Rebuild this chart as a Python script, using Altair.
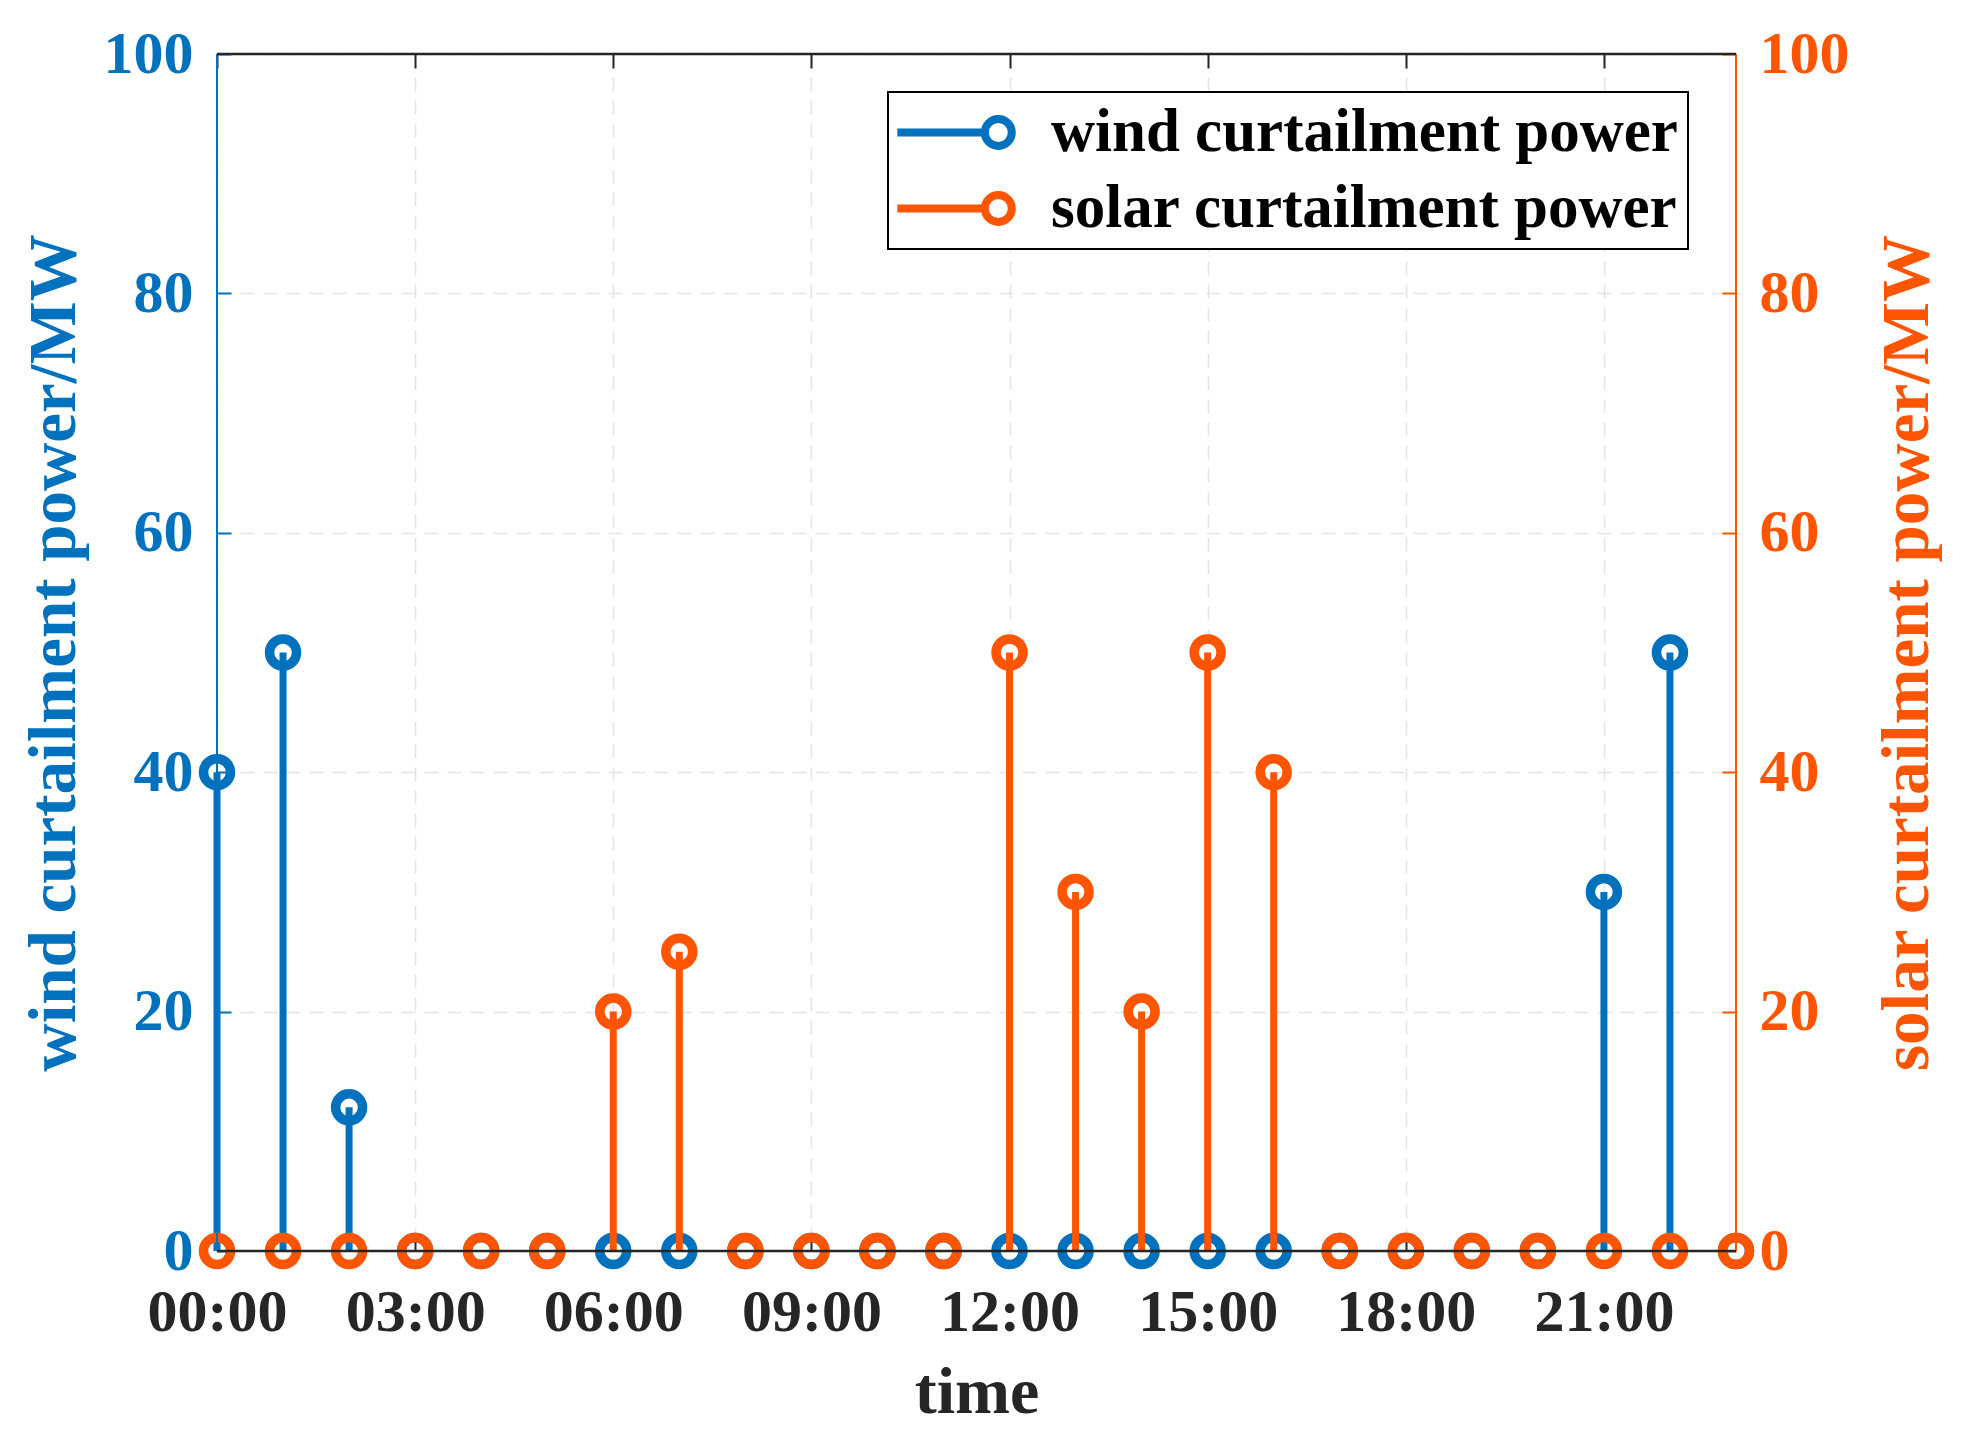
import altair as alt
import pandas as pd

# ---- data ----
hours = list(range(24))
wind_mw = [40, 50, 12, 0, 0, 0, 0, 0, 0, 0, 0, 0, 0, 0, 0, 0, 0, 0, 0, 0, 0, 30, 50, 0]
solar_mw = [0, 0, 0, 0, 0, 0, 20, 25, 0, 0, 0, 0, 50, 30, 20, 50, 40, 0, 0, 0, 0, 0, 0, 0]
series_names = ["wind curtailment power", "solar curtailment power"]
series_colors = ["#0072BD", "#FF5500"]
x_ticks = [0, 3, 6, 9, 12, 15, 18, 21]
y_ticks = [0, 20, 40, 60, 80, 100]
x_domain = [0, 23]
y_domain = [0, 100]
axis_titles = ["time", "wind curtailment power/MW", "solar curtailment power/MW"]

BLUE, ORANGE = series_colors
DARK = "#262626"
FONT = "Liberation Serif"
W, H = 1519, 1197

df = pd.DataFrame({
    "hour": hours + hours,
    "value": wind_mw + solar_mw,
    "base": [0] * 48,
    "series": [series_names[0]] * 24 + [series_names[1]] * 24,
})

LEGEND_PATH = "M-2.31,0L4.17,0M6.17,0A1,1,0,1,1,4.17,0A1,1,0,1,1,6.17,0"

legend = alt.Legend(
    title=None, orient="none", legendX=671, legendY=38, direction="vertical",
    symbolType=LEGEND_PATH, symbolSize=729, symbolStrokeWidth=8,
    symbolFillColor="transparent",
    labelFont=FONT, labelFontSize=61, labelFontWeight="bold", labelColor="black",
    labelLimit=0, labelOffset=92, rowPadding=14, padding=10,
    strokeColor="black", fillColor="white",
)
color_enc = alt.Color("series:N", scale=alt.Scale(domain=series_names, range=series_colors), legend=legend)

xs = alt.Scale(domain=x_domain, nice=False, zero=False)
grid_props = dict(grid=True, gridColor="#e4e4e4", gridDash=[14, 9], gridWidth=1.5)

x_bottom = alt.X("hour:Q", scale=xs, axis=alt.Axis(
    orient="bottom", values=x_ticks,
    labelExpr="(datum.value < 10 ? '0' : '') + datum.value + ':00'",
    offset=-14, tickSize=14, tickWidth=2, tickColor=DARK, domain=False,
    labelFont=FONT, labelFontSize=60, labelFontWeight="bold", labelColor=DARK,
    labelBaseline="alphabetic", labelPadding=79, labelFlush=False, labelOverlap=False,
    title=axis_titles[0], titleFont=FONT, titleFontSize=66, titleFontWeight="bold",
    titleColor=DARK, titleX=W / 2, titleY=175.5, titleBaseline="alphabetic", titleAlign="center",
    **grid_props))

x_top = alt.X("hour:Q", scale=xs, axis=alt.Axis(
    orient="top", values=x_ticks, offset=-14, tickSize=14, tickWidth=2, tickColor=DARK,
    domain=False, labels=False, grid=False, title=None))

y_left = alt.Y("value:Q", scale=alt.Scale(domain=y_domain, nice=False), axis=alt.Axis(
    orient="left", values=y_ticks, offset=-14, tickSize=14, tickWidth=2, tickColor=BLUE,
    domain=False, labelFont=FONT, labelFontSize=60, labelFontWeight="bold", labelColor=BLUE,
    labelPadding=24, labelFlush=False, labelOverlap=False,
    title=axis_titles[1], titleFont=FONT, titleFontSize=67, titleFontWeight="bold",
    titleColor=BLUE, titleAngle=270, titleX=-157, titleY=H / 2,
    titleBaseline="alphabetic", titleAlign="center",
    **grid_props))

y_right = alt.Y("value:Q", scale=alt.Scale(domain=y_domain, nice=False), axis=alt.Axis(
    orient="right", values=y_ticks, offset=-14, tickSize=14, tickWidth=2, tickColor=ORANGE,
    domain=False, grid=False, labelFont=FONT, labelFontSize=60, labelFontWeight="bold",
    labelColor=ORANGE, labelPadding=23, labelFlush=False, labelOverlap=False,
    title=axis_titles[2], titleFont=FONT, titleFontSize=67, titleFontWeight="bold",
    titleColor=ORANGE, titleAngle=270, titleX=205, titleY=H / 2,
    titleBaseline="alphabetic", titleAlign="center"))

wind_base = alt.Chart(df).transform_filter(alt.datum.series == series_names[0])
solar_base = alt.Chart(df).transform_filter(alt.datum.series == series_names[1])

MARKER = dict(shape="circle", filled=False, size=729, strokeWidth=9.5, opacity=1)

wind_layer = alt.layer(
    wind_base.mark_rule(strokeWidth=7).encode(x=x_bottom, y=y_left, y2="base:Q", color=color_enc),
    wind_base.mark_point(**MARKER).encode(x=x_bottom, y=y_left, color=color_enc),
)
solar_layer = alt.layer(
    solar_base.mark_rule(strokeWidth=7).encode(x=x_top, y=y_right, y2="base:Q", color=color_enc),
    solar_base.mark_point(**MARKER).encode(x=x_top, y=y_right, color=color_enc),
)

frame_df = pd.DataFrame({"k": [0]})
frame_base = alt.Chart(frame_df)
fy = alt.Scale(domain=y_domain, nice=False)
frame_layer = alt.layer(
    frame_base.mark_rule(strokeWidth=2, color=BLUE).encode(x=alt.X(datum=x_domain[0], scale=xs, axis=None)),
    frame_base.mark_rule(strokeWidth=2, color=ORANGE).encode(x=alt.X(datum=x_domain[1], scale=xs, axis=None)),
    frame_base.mark_rule(strokeWidth=2.5, color=DARK).encode(y=alt.Y(datum=y_domain[0], scale=fy, axis=None)),
    frame_base.mark_rule(strokeWidth=2.5, color=DARK).encode(y=alt.Y(datum=y_domain[1], scale=fy, axis=None)),
)

chart = (
    alt.layer(wind_layer, solar_layer, frame_layer)
    .resolve_scale(y="independent")
    .resolve_axis(x="independent", y="independent")
    .properties(width=W, height=H, autosize=alt.AutoSizeParams(type="none"),
                padding={"left": 209, "top": 46, "right": 215, "bottom": 182},
                background="white")
    .configure_view(stroke=None)
    .configure_legend(strokeWidth=2)
)

chart.save("out.html", embed_options={"renderer": "svg", "actions": False})
